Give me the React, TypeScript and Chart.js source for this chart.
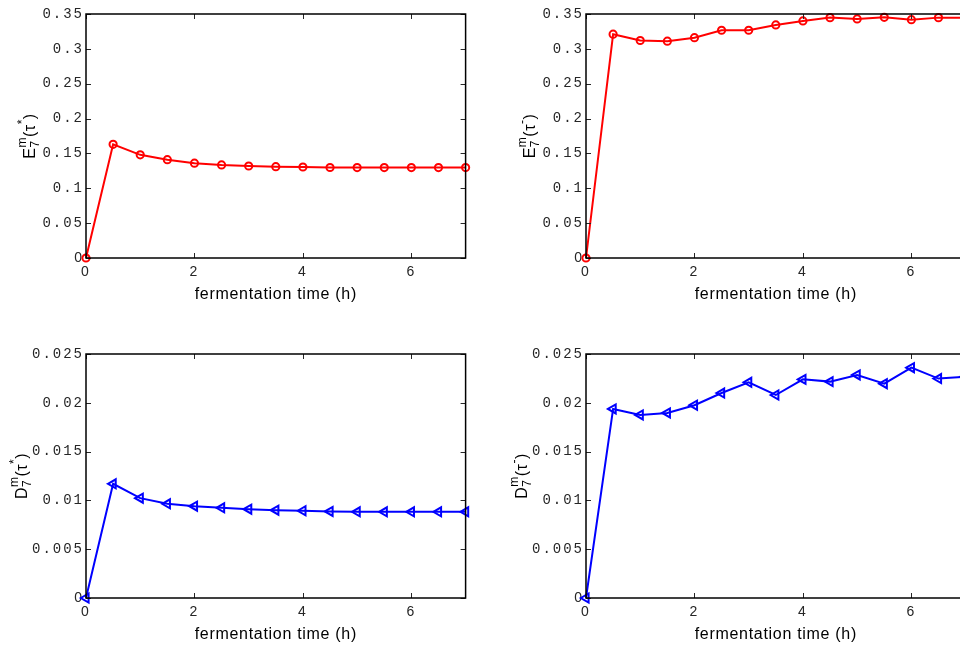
import React, { useEffect, useRef } from 'react';
import { Chart, registerables } from 'chart.js';

Chart.register(...registerables);

// ---------- data ----------
const hours = [0, 0.5, 1, 1.5, 2, 2.5, 3, 3.5, 4, 4.5, 5, 5.5, 6, 6.5, 7];
const eStar = [0, 0.163, 0.148, 0.141, 0.136, 0.1335, 0.132, 0.131, 0.1305, 0.1298, 0.1297, 0.1297, 0.1297, 0.1297, 0.1297];
const eMinus = [0, 0.321, 0.312, 0.311, 0.316, 0.3267, 0.3267, 0.3343, 0.34, 0.3448, 0.343, 0.3453, 0.3419, 0.3448, 0.3448];
const dStar = [0, 0.0117, 0.01023, 0.00965, 0.00941, 0.00924, 0.0091, 0.009, 0.00894, 0.00887, 0.00883, 0.00883, 0.00883, 0.00883, 0.00883];
const dMinus = [0, 0.01937, 0.01876, 0.01896, 0.01975, 0.021, 0.0221, 0.0208, 0.0224, 0.02217, 0.02285, 0.02196, 0.0236, 0.02248, 0.02268];

const xTicks = [0, 2, 4, 6];
const xTickLabels = ['0', '2', '4', '6'];
const eTicks = [0, 0.05, 0.1, 0.15, 0.2, 0.25, 0.3, 0.35];
const eTickLabels = ['0', '0.05', '0.1', '0.15', '0.2', '0.25', '0.3', '0.35'];
const dTicks = [0, 0.005, 0.01, 0.015, 0.02, 0.025];
const dTickLabels = ['0', '0.005', '0.01', '0.015', '0.02', '0.025'];

const xTitle = 'fermentation time (h)';
type Part = { main?: string; sup?: string; sub?: string };
const eStarLabel: Part[] = [{ main: 'E' }, { sup: 'm', sub: '7' }, { main: '(τ' }, { sup: '*' }, { main: ')' }];
const eMinusLabel: Part[] = [{ main: 'E' }, { sup: 'm', sub: '7' }, { main: '(τ' }, { sup: '-' }, { main: ')' }];
const dStarLabel: Part[] = [{ main: 'D' }, { sup: 'm', sub: '7' }, { main: '(τ' }, { sup: '*' }, { main: ')' }];
const dMinusLabel: Part[] = [{ main: 'D' }, { sup: 'm', sub: '7' }, { main: '(τ' }, { sup: '-' }, { main: ')' }];

// ---------- layout ----------
const CW = 500;
const CH = 325;
const PLOT_LEFT = 86;
const PLOT_TOP = 14;
const PLOT_RIGHT = 465.6;
const PLOT_BOTTOM = 258;

function drawYLabel(ctx: CanvasRenderingContext2D, parts: Part[], bx: number, cy: number) {
  ctx.save();
  (ctx as any).letterSpacing = '0.5px';
  ctx.fillStyle = '#000';
  ctx.textBaseline = 'alphabetic';
  ctx.textAlign = 'left';
  const big = "16px 'Liberation Sans'";
  const small = "12px 'Liberation Sans'";
  const widths = parts.map((p) => {
    if (p.main !== undefined) {
      ctx.font = big;
      return ctx.measureText(p.main).width;
    }
    ctx.font = small;
    return Math.max(ctx.measureText(p.sup || '').width, ctx.measureText(p.sub || '').width);
  });
  const total = widths.reduce((a, b) => a + b, 0);
  ctx.translate(bx, cy);
  ctx.rotate(-Math.PI / 2);
  let x = -total / 2;
  parts.forEach((p, i) => {
    if (p.main !== undefined) {
      ctx.font = big;
      ctx.fillText(p.main, x, 0);
    } else {
      ctx.font = small;
      if (p.sup) ctx.fillText(p.sup, x, -9);
      if (p.sub) ctx.fillText(p.sub, x, 4);
    }
    x += widths[i];
  });
  ctx.restore();
}

type PanelProps = {
  left: number;
  top: number;
  values: number[];
  color: string;
  marker: 'circle' | 'triangle';
  yMax: number;
  yTicks: number[];
  yTickLabels: string[];
  yLabel: Part[];
  yLabelX: number;
};

function Panel(props: PanelProps) {
  const ref = useRef<HTMLCanvasElement | null>(null);
  useEffect(() => {
    const canvas = ref.current;
    if (!canvas) return;
    const { values, color, marker, yMax, yTicks, yTickLabels, yLabel, yLabelX } = props;

    const framePlugin = {
      id: 'frame',
      beforeDraw(chart: any) {
        (chart.ctx as any).letterSpacing = '2px';
      },
      afterDatasetsDraw(chart: any) {
        const ctx = chart.ctx as CanvasRenderingContext2D;
        const a = chart.chartArea;
        const xs = chart.scales.x;
        const ys = chart.scales.y;
        ctx.save();
        ctx.strokeStyle = '#262626';
        ctx.lineWidth = 1;
        const tl = 5;
        xTicks.forEach((v) => {
          const px = Math.round(xs.getPixelForValue(v)) + 0.5;
          ctx.beginPath();
          ctx.moveTo(px, a.bottom);
          ctx.lineTo(px, a.bottom - tl);
          ctx.moveTo(px, a.top);
          ctx.lineTo(px, a.top + tl);
          ctx.stroke();
        });
        yTicks.forEach((v) => {
          const py = Math.round(ys.getPixelForValue(v)) + 0.5;
          ctx.beginPath();
          ctx.moveTo(a.left, py);
          ctx.lineTo(a.left + tl, py);
          ctx.moveTo(a.right, py);
          ctx.lineTo(a.right - tl, py);
          ctx.stroke();
        });
        ctx.strokeStyle = '#000';
        ctx.lineWidth = 1.5;
        ctx.strokeRect(a.left, a.top, a.right - a.left, a.bottom - a.top);
        ctx.restore();
      },
      afterDraw(chart: any) {
        const ctx = chart.ctx as CanvasRenderingContext2D;
        const a = chart.chartArea;
        ctx.save();
        (ctx as any).letterSpacing = '0.7px';
        ctx.font = "16px 'Liberation Sans'";
        ctx.fillStyle = '#000';
        ctx.textAlign = 'center';
        ctx.textBaseline = 'alphabetic';
        ctx.fillText(xTitle, (a.left + a.right) / 2, 299);
        ctx.restore();
        drawYLabel(ctx, yLabel, yLabelX, (a.top + a.bottom) / 2);
      },
    };

    const chart = new Chart(canvas, {
      type: 'line',
      data: {
        datasets: [
          {
            data: hours.map((h, i) => ({ x: h, y: values[i] })),
            borderColor: color,
            borderWidth: 2,
            pointStyle: marker,
            pointRotation: marker === 'triangle' ? -90 : 0,
            pointRadius: marker === 'triangle' ? 5.2 : 3.6,
            pointBorderWidth: 2,
            pointBorderColor: color,
            pointBackgroundColor: 'rgba(0,0,0,0)',
            tension: 0,
            clip: false as any,
          } as any,
        ],
      },
      options: {
        animation: false,
        responsive: false,
        devicePixelRatio: 1,
        layout: { padding: { left: 0, top: PLOT_TOP, right: CW - PLOT_RIGHT, bottom: 0 } },
        plugins: { legend: { display: false }, tooltip: { enabled: false } },
        scales: {
          x: {
            type: 'linear',
            min: 0,
            max: 7,
            grid: { display: false, drawTicks: false },
            border: { display: false },
            afterBuildTicks: (s: any) => {
              s.ticks = xTicks.map((v) => ({ value: v }));
            },
            afterFit: (s: any) => {
              s.height = CH - PLOT_BOTTOM;
            },
            ticks: {
              callback: (_v: any, i: number) => xTickLabels[i],
              font: { family: 'Liberation Sans', size: 14 },
              color: '#262626',
              padding: 6,
              maxRotation: 0,
              autoSkip: false,
            },
          },
          y: {
            type: 'linear',
            min: 0,
            max: yMax,
            grid: { display: false, drawTicks: false },
            border: { display: false },
            afterBuildTicks: (s: any) => {
              s.ticks = yTicks.map((v) => ({ value: v }));
            },
            afterFit: (s: any) => {
              s.width = PLOT_LEFT;
            },
            ticks: {
              callback: (_v: any, i: number) => yTickLabels[i],
              font: (c: any) =>
                c.index === 0
                  ? { family: 'Liberation Sans', size: 14 }
                  : { family: 'Liberation Mono', size: 14 },
              color: '#262626',
              padding: 2,
              autoSkip: false,
            },
          },
        },
      } as any,
      plugins: [framePlugin],
    });
    return () => chart.destroy();
  }, []);

  return (
    <canvas
      ref={ref}
      width={CW}
      height={CH}
      style={{ position: 'absolute', left: props.left, top: props.top, width: CW, height: CH }}
    />
  );
}

export default function App() {
  return (
    <div
      style={{
        position: 'fixed',
        left: 0,
        top: 0,
        width: 960,
        height: 650,
        overflow: 'hidden',
        background: '#fff',
      }}
    >
      <Panel left={0} top={0} values={eStar} color="#ff0000" marker="circle" yMax={0.35}
        yTicks={eTicks} yTickLabels={eTickLabels} yLabel={eStarLabel} yLabelX={35} />
      <Panel left={500} top={0} values={eMinus} color="#ff0000" marker="circle" yMax={0.35}
        yTicks={eTicks} yTickLabels={eTickLabels} yLabel={eMinusLabel} yLabelX={35} />
      <Panel left={0} top={340} values={dStar} color="#0000ff" marker="triangle" yMax={0.025}
        yTicks={dTicks} yTickLabels={dTickLabels} yLabel={dStarLabel} yLabelX={27} />
      <Panel left={500} top={340} values={dMinus} color="#0000ff" marker="triangle" yMax={0.025}
        yTicks={dTicks} yTickLabels={dTickLabels} yLabel={dMinusLabel} yLabelX={27} />
    </div>
  );
}
